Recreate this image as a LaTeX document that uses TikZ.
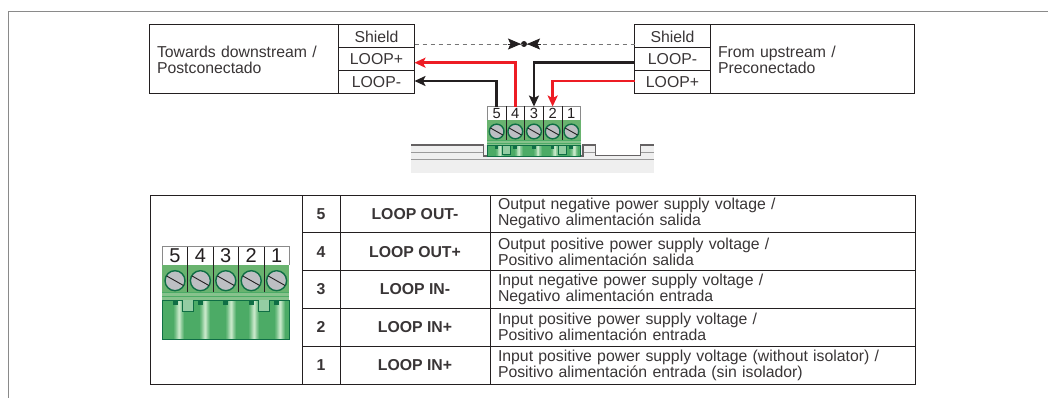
\documentclass[tikz,border=0pt]{standalone}
\usepackage{fontspec}
\setmainfont{Liberation Sans}
\usetikzlibrary{arrows.meta}
\definecolor{inkblack}{HTML}{231F20}
\definecolor{wirered}{HTML}{ED1C24}
\definecolor{framegray}{HTML}{8A8A8A}
\definecolor{railfill}{HTML}{EFEFEF}
\definecolor{railline}{HTML}{9A9A9A}
\definecolor{blockgreen}{HTML}{69B36F}
\definecolor{bodygreen}{HTML}{4CAB66}
\definecolor{bandgreen}{HTML}{C6E7C8}
\definecolor{edgegreen}{HTML}{0F6E45}
\definecolor{screwgray}{HTML}{BDBFC3}
\tikzset{
  cell/.style={draw=inkblack,line width=1pt,inner sep=0pt,outer sep=0pt,font=\fontsize{15.8}{16}\selectfont,text=inkblack!90},
  wirecell/.style={cell,minimum width=76pt,minimum height=23pt,anchor=north west},
  wiretext/.style={cell,align=left,text width=174pt,inner xsep=7.5pt,minimum height=69pt,anchor=north west},
  numcell/.style={cell,minimum width=38pt,minimum height=37.8pt,anchor=north west,font=\fontsize{15.8}{15}\selectfont\bfseries},
  signalcell/.style={cell,minimum width=150pt,minimum height=37.8pt,anchor=north west,font=\fontsize{15.8}{15}\selectfont\bfseries},
  desccell/.style={cell,align=left,text width=409.5pt,inner xsep=8pt,minimum height=37.8pt,anchor=north west,font=\fontsize{15.8}{16}\selectfont},
  redwire/.style={draw=wirered,line width=2.6pt,-{Stealth[length=11pt,width=10pt,inset=2.5pt]}},
  blackwire/.style={draw=inkblack,line width=2.6pt,-{Stealth[length=11pt,width=10pt,inset=2.5pt]}},
  pics/terminalblock/.style={code={
    \fill[white] (0,0) rectangle (127,18.3);
    \draw[framegray,line width=1pt] (0,18.3) -- (0,0) -- (127,0) -- (127,18.3);
    \fill[blockgreen] (0,18.3) rectangle (127,45.6);
    \fill[blockgreen!80!white] (0,45.6) rectangle (127,53.3);
    \draw[bodygreen,line width=.8pt] (0,45.6) -- (127,45.6);
    \draw[bodygreen,line width=.8pt] (0,50) -- (127,50);
    \fill[bodygreen] (0,53.3) rectangle (127,#1);
    \foreach \x in {17,43,69,92,118}{
      \foreach \d/\c in {-5/15,-4/30,-3/50,-2/70,-1/90,0/100,1/85,2/60,3/40,4/20}
        \fill[bandgreen!\c!bodygreen] (\x+\d,53.3) rectangle (\x+\d+1.1,#1);
    }
    \draw[edgegreen,line width=.8pt] (0,53.3) rectangle (127,#1);
    \foreach \x in {12.7,38,63.5,88.9,114.3}
      \fill[edgegreen] (\x-2.5,53.3) rectangle (\x+2.5,58);
    \foreach \x in {20.5,96}
      \draw[edgegreen,line width=.7pt,fill=bodygreen!60!white] (\x,53.3) -- (\x,64.7) -- (\x+11,64.7) -- (\x+11,53.3);
    \foreach \n [count=\i from 0] in {5,4,3,2,1}{
      \node[inner sep=0pt,outer sep=0pt,minimum width=25.4pt,minimum height=18.3pt,transform shape,font=\fontsize{20}{20}\selectfont,text=inkblack] (n\n) at ({12.7+25.4*\i},9.2) {\n};
      \draw[draw=edgegreen,line width=1.4pt,fill=screwgray] ({12.7+25.4*\i},34) circle (10);
      \draw[inkblack,line width=.9pt] ({12.7+25.4*\i-8.5},{34-4.8}) -- ({12.7+25.4*\i+8.5},{34+4.8});
    }
    \foreach \x in {25.4,50.8,76.2,101.6}
      \draw[inkblack,line width=.8pt] (\x,0) -- (\x,45.6);
  }},
}
\begin{document}
\begin{tikzpicture}[x=1pt,y=-1pt]
\useasboundingbox (0,0) rectangle (1048,398);
% frame
\draw[framegray,line width=1pt] (8.5,398) -- (8.5,11.5) -- (1048,11.5);
% left box
\node[wiretext] (ltext) at (149.5,25) {Towards downstream /\\Postconectado};
\node[wirecell] (lshield) at (338.5,25) {Shield};
\node[wirecell] (lplus) at (338.5,48) {LOOP+};
\node[wirecell] (lminus) at (338.5,71) {LOOP-};
% right box
\node[wirecell] (rshield) at (634.5,25) {Shield};
\node[wirecell] (rminus) at (634.5,48) {LOOP-};
\node[wirecell] (rplus) at (634.5,71) {LOOP+};
\node[wiretext,text width=189pt] (rtext) at (710.5,25) {From upstream /\\Preconectado};
% rail under the small block
\fill[railfill] (411,145) -- (654,145) -- (654,172.7) -- (411,172.7) -- cycle;
\fill[white] (595.7,144) rectangle (640.7,155.5);
\draw[railline,line width=1pt] (411,152.7) -- (483.5,152.7);
\draw[railline,line width=1pt] (583,152.7) -- (595.7,152.7);
\draw[railline,line width=1pt] (640.7,152.7) -- (654,152.7);
\draw[railline,line width=1.4pt] (411,159.3) -- (654,159.3);
\draw[inkblack!70,line width=1.2pt] (411,145) -- (483.5,145) -- (483.5,156) -- (583,156) -- (583,145) -- (595.7,145) -- (595.7,155.5) -- (640.7,155.5) -- (640.7,145) -- (654,145);
\pic (tbsmall) at (487.3,106.5) [scale=.735] {terminalblock=67.3};
% shield
\coordinate (lshieldout) at ([yshift=-7.5pt]lshield.east);
\coordinate (rshieldout) at ([yshift=-7.5pt]rshield.west);
\node[circle,fill=inkblack,inner sep=0pt,minimum size=6pt,outer sep=0pt] (shieldjoin) at (524,44) {};
\draw[framegray!85!black,line width=.7pt,dash pattern=on 4.5pt off 3.5pt] (lshieldout) -- (rshieldout);
\coordinate (jointl) at (507.5,44);
\coordinate (jointr) at (540.5,44);
\draw[draw=inkblack,line width=.8pt,-{Stealth[length=13pt,width=11pt,inset=2.5pt]}] (jointl) -- (shieldjoin);
\draw[draw=inkblack,line width=.8pt,-{Stealth[length=13pt,width=11pt,inset=2.5pt]}] (jointr) -- (shieldjoin);
% wires
\coordinate (lplusin) at ([yshift=-3.2pt]lplus.east);
\coordinate (lminusin) at ([yshift=1.5pt]lminus.east);
\coordinate (rminusout) at ([yshift=-3.2pt]rminus.west);
\coordinate (rplusout) at ([yshift=1.5pt]rplus.west);
\draw[redwire] (tbsmalln4.north) |- (lplusin);
\draw[blackwire] (tbsmalln5.north) |- (lminusin);
\draw[blackwire] (rminusout) -| (tbsmalln3.north);
\draw[redwire] (rplusout) -| (tbsmalln2.north);
% table
\node[cell,minimum width=151.5pt,minimum height=189pt,anchor=north west] (blockcell) at (150.5,195) {};
\foreach \n/\sig/\en/\es [count=\r from 0] in {
  5/LOOP OUT-/{Output negative power supply voltage /}/Negativo alimentación salida,
  4/LOOP OUT+/{Output positive power supply voltage /}/Positivo alimentación salida,
  3/LOOP IN-/{Input negative power supply voltage /}/Negativo alimentación entrada,
  2/LOOP IN+/{Input positive power supply voltage /}/Positivo alimentación entrada,
  1/LOOP IN+/{Input positive power supply voltage (without isolator) /}/Positivo alimentación entrada (sin isolador)}{
  \node[numcell] (num\n) at (302,{195+37.8*\r}) {\n};
  \node[signalcell] (sig\n) at (340,{195+37.8*\r}) {\sig};
  \node[desccell] (desc\n) at (490,{195+37.8*\r}) {\en\\\es};
}
\pic (tblarge) at (162.3,246.7) {terminalblock=92.3};
\end{tikzpicture}
\end{document}
